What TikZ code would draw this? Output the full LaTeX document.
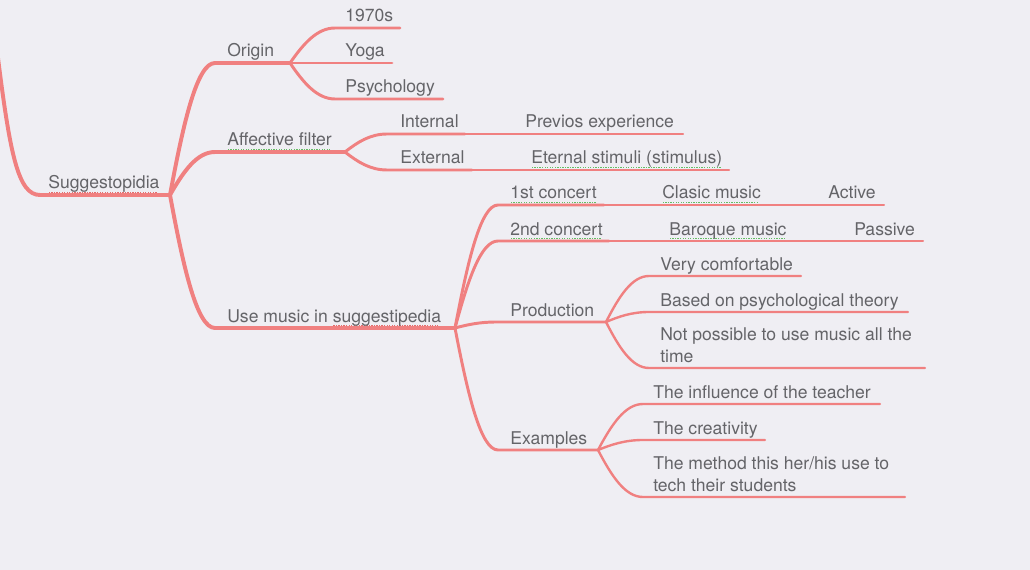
\documentclass[tikz,border=0pt]{standalone}
\usepackage{fontspec}
\setmainfont{TeX Gyre Heros}
\usetikzlibrary{calc}

\definecolor{branchcol}{RGB}{240,128,128}
\definecolor{textcol}{RGB}{100,100,104}
\definecolor{bgcol}{RGB}{239,238,243}
\definecolor{spellred}{RGB}{226,110,110}
\definecolor{spellgreen}{RGB}{100,190,100}

% dotted spell-check mark under a word
\newcommand\spell[2]{\setbox0\hbox{#2}\rlap{\color{#1}\raisebox{-2.8pt}{\hbox to \wd0{\leaders\hbox to 1.8pt{\hss\rule{0.95pt}{0.95pt}\hss}\hfill}}}\box0}

\tikzstyle{topic} = [anchor=base west, inner sep=0pt, text=textcol, font=\fontsize{12.5}{15}\selectfont]
\tikzstyle{lvlone} = [draw=branchcol, line width=2.8pt, line cap=round, line join=round]
\tikzstyle{lvltwo} = [draw=branchcol, line width=2.1pt, line cap=round, line join=round]
\tikzstyle{lvlthree} = [draw=branchcol, line width=1.7pt, line cap=round, line join=round]
\tikzstyle{lvlfour} = [draw=branchcol, line width=1.4pt, line cap=round, line join=round]
\tikzstyle{fork} = [to path={let \p1=(\tikztostart), \p2=(\tikztotarget) in .. controls ({\x1+0.3*(\x2-\x1)},{\y1+0.55*(\y2-\y1)}) and ({\x1+0.6*(\x2-\x1)},\y2) .. (\tikztotarget) \tikztonodes}]

\begin{document}
\begin{tikzpicture}[x=0.025cm, y=-0.025cm]
\useasboundingbox (0,0) rectangle (1030,570);
\fill[bgcol] (0,0) rectangle (1030,570);
\clip (0,0) rectangle (1030,570);

% root
\coordinate (top) at (-3,50);
\coordinate (root-s) at (40,195);
\coordinate (root-e) at (170,195);
\node[topic] (root) at (48,189) {\spell{spellred}{Suggestopidia}};

% main branches
\coordinate (origin-s) at (215,63);
\coordinate (origin-e) at (290,63);
\node[topic] (origin) at (227,57) {Origin};
\coordinate (affect-s) at (215,152);
\coordinate (affect-e) at (345,152);
\node[topic] (affect) at (227,146) {\spell{spellgreen}{Affective filter}};
\coordinate (music-s) at (215,328);
\coordinate (music-e) at (455,328);
\node[topic] (music) at (227,322) {Use music in \spell{spellred}{suggestipedia}};

% origin
\coordinate (y1970-s) at (335,28);
\coordinate (y1970-e) at (400,28);
\node[topic] (y1970) at (345,22) {1970s};
\coordinate (yoga-s) at (335,63);
\coordinate (yoga-e) at (392,63);
\node[topic] (yoga) at (345,57) {Yoga};
\coordinate (psych-s) at (335,99);
\coordinate (psych-e) at (443,99);
\node[topic] (psych) at (345,93) {Psychology};

% affective filter
\coordinate (internal-s) at (387,134);
\coordinate (internal-e) at (465,134);
\node[topic] (internal) at (400,128) {Internal};
\coordinate (previos-e) at (683,134);
\node[topic] (previos) at (525,128) {Previos experience};
\coordinate (external-s) at (387,170);
\coordinate (external-e) at (472,170);
\node[topic] (external) at (400,164) {External};
\coordinate (eternal-e) at (729,170);
\node[topic] (eternal) at (531,164) {\spell{spellgreen}{Eternal stimuli (stimulus)}};

% use music
\coordinate (first-s) at (498,205);
\coordinate (first-e) at (604,205);
\node[topic] (first) at (510,199) {\spell{spellgreen}{1st concert}};
\coordinate (clasic-e) at (768,205);
\node[topic] (clasic) at (662,199) {\spell{spellgreen}{Clasic music}};
\coordinate (active-e) at (884,205);
\node[topic] (active) at (828,199) {Active};
\coordinate (second-s) at (498,241);
\coordinate (second-e) at (609,241);
\node[topic] (second) at (510,235) {\spell{spellgreen}{2nd concert}};
\coordinate (baroque-e) at (794,241);
\node[topic] (baroque) at (669,235) {\spell{spellgreen}{Baroque music}};
\coordinate (passive-e) at (923,241);
\node[topic] (passive) at (854,235) {Passive};
\coordinate (prod-s) at (496,322);
\coordinate (prod-e) at (606,322);
\node[topic] (prod) at (510,316) {Production};
\coordinate (examples-s) at (498,450);
\coordinate (examples-e) at (598,450);
\node[topic] (examples) at (510,444) {Examples};

% production
\coordinate (comfy-s) at (649,276);
\coordinate (comfy-e) at (801,276);
\node[topic] (comfy) at (660,270) {Very comfortable};
\coordinate (based-s) at (649,312);
\coordinate (based-e) at (908,312);
\node[topic] (based) at (660,306) {Based on psychological theory};
\coordinate (notposs-s) at (649,368);
\coordinate (notposs-e) at (925,368);
\node[topic, align=left] (notposs) at (660,362) {Not possible to use music all the\\time};

% examples
\coordinate (influence-s) at (643,404);
\coordinate (influence-e) at (880,404);
\node[topic] (influence) at (653,398) {The influence of the teacher};
\coordinate (creativity-s) at (643,440);
\coordinate (creativity-e) at (765,440);
\node[topic] (creativity) at (653,434) {The creativity};
\coordinate (method-s) at (643,497);
\coordinate (method-e) at (905,497);
\node[topic, align=left] (method) at (653,491) {The method this her/his use to\\tech their students};

% branches
\draw[lvlone] (top) .. controls (10,155) and (18,195) .. (root-s) -- (root-e);
\draw[lvlone] (root-e) to[fork] (origin-s) -- (origin-e);
\draw[lvlone] (root-e) to[fork] (affect-s) -- (affect-e);
\draw[lvlone] (root-e) to[fork] (music-s) -- (music-e);

\draw[lvltwo] (origin-e) to[fork] (y1970-s) -- (y1970-e);
\draw[lvltwo] (origin-e) to[fork] (yoga-s) -- (yoga-e);
\draw[lvltwo] (origin-e) to[fork] (psych-s) -- (psych-e);

\draw[lvltwo] (affect-e) to[fork] (internal-s) -- (internal-e);
\draw[lvltwo] (affect-e) to[fork] (external-s) -- (external-e);
\draw[lvlthree] (internal-e) -- (previos-e);
\draw[lvlthree] (external-e) -- (eternal-e);

\draw[lvltwo] (music-e) to[fork] (first-s) -- (first-e);
\draw[lvltwo] (music-e) to[fork] (second-s) -- (second-e);
\draw[lvltwo] (music-e) to[fork] (prod-s) -- (prod-e);
\draw[lvltwo] (music-e) to[fork] (examples-s) -- (examples-e);
\draw[lvlthree] (first-e) -- (clasic-e);
\draw[lvlfour] (clasic-e) -- (active-e);
\draw[lvlthree] (second-e) -- (baroque-e);
\draw[lvlfour] (baroque-e) -- (passive-e);

\draw[lvlthree] (prod-e) to[fork] (comfy-s) -- (comfy-e);
\draw[lvlthree] (prod-e) to[fork] (based-s) -- (based-e);
\draw[lvlthree] (prod-e) to[fork] (notposs-s) -- (notposs-e);

\draw[lvlthree] (examples-e) to[fork] (influence-s) -- (influence-e);
\draw[lvlthree] (examples-e) to[fork] (creativity-s) -- (creativity-e);
\draw[lvlthree] (examples-e) to[fork] (method-s) -- (method-e);

\end{tikzpicture}
\end{document}
